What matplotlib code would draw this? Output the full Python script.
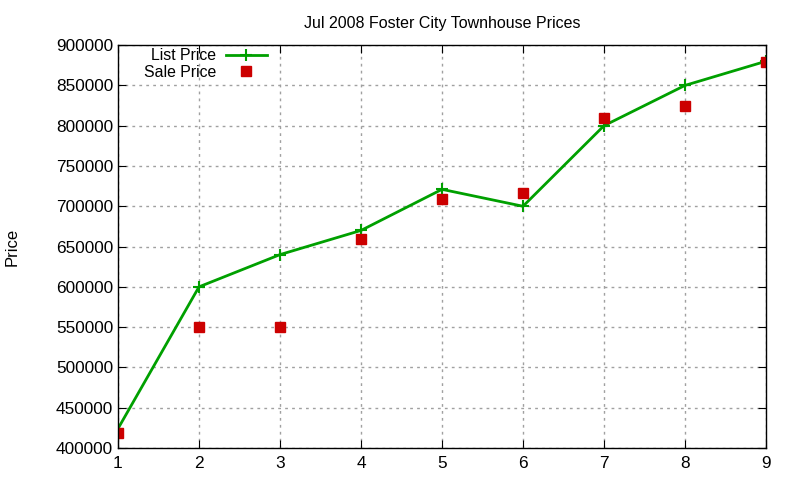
import matplotlib
matplotlib.use("Agg")
from matplotlib import pyplot as plt

plt.rcParams['font.family'] = ['Liberation Sans', 'DejaVu Sans']

months = [1, 2, 3, 4, 5, 6, 7, 8, 9]
list_price = [424000, 600000, 640000, 670000, 721000, 700000, 800000, 850000, 880000]
sale_price = [419000, 550000, 550000, 659000, 709000, 716000, 810000, 825000, 879000]
yticks = list(range(400000, 900001, 50000))

green = "#00a000"
red = "#cc0000"

fig = plt.figure(figsize=(8, 4.8), dpi=100)
ax = fig.add_axes([0.1475, 0.0667, 0.81, 0.8393])

ax.plot(months, list_price, color=green, lw=2, marker="+", ms=8, mew=1.5)
ax.plot(months, sale_price, color=red, ls="none", marker="s", ms=6.5)

ax.set_xlim(1, 9)
ax.set_ylim(400000, 900000)
ax.set_xticks(months)
ax.set_yticks(yticks)
ax.tick_params(direction="in", top=True, right=True, length=6, labelsize=12.4,
               colors="black")
ax.tick_params(axis="x", pad=6)
ax.grid(True, color="#a0a0a0", ls=(0, (2, 3)), lw=1)
for s in ax.spines.values():
    s.set_linewidth(1)
ax.set_title("Jul 2008 Foster City Townhouse Prices", fontsize=11.5, pad=12)
ax.set_ylabel("Price", fontsize=12, labelpad=26)

# gnuplot style key: text right aligned, sample on the right
tr = ax.transAxes
ax.text(0.151, 0.973, "List Price", transform=tr, ha="right", va="center", fontsize=11.4)
ax.text(0.151, 0.933, "Sale Price", transform=tr, ha="right", va="center", fontsize=11.4)
ax.plot([0.167, 0.230], [0.975, 0.975], transform=tr, color=green, lw=2)
ax.plot([0.198], [0.975], transform=tr, color=green, marker="+", ms=8, mew=1.5)
ax.plot([0.198], [0.935], transform=tr, color=red, marker="s", ms=6.5, ls="none")

fig.savefig("out.png", dpi=100)
